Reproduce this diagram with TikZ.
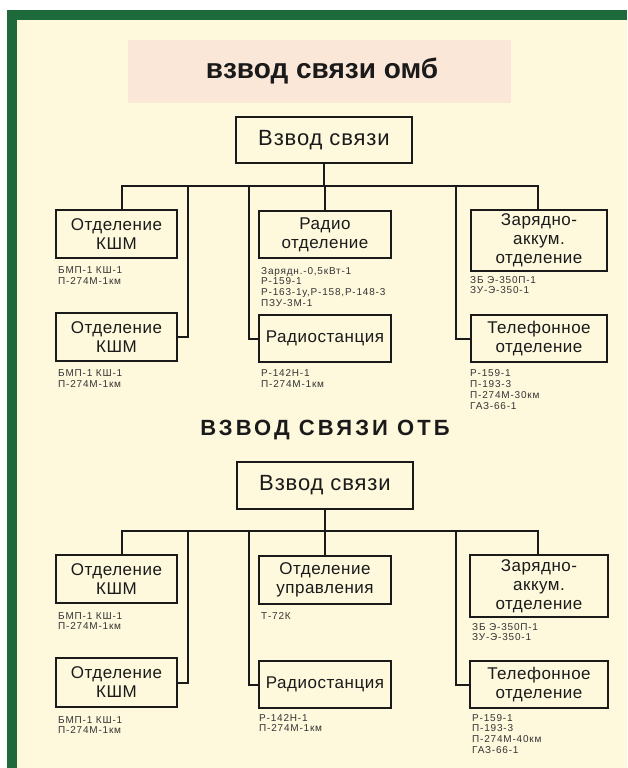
\documentclass[tikz,border=0pt]{standalone}
\usepackage{fontspec}
\setmainfont{Liberation Sans}
\newfontfamily\boxfont[LetterSpace=3]{Liberation Sans}
\newfontfamily\rootfont[LetterSpace=4]{Liberation Sans}
\newfontfamily\notefont[LetterSpace=8]{Liberation Sans}
\newfontfamily\capfont[LetterSpace=14]{Liberation Sans}
\definecolor{frame}{HTML}{1E6A3A}
\definecolor{cream}{HTML}{FEF8DD}
\definecolor{pinkbg}{HTML}{FBE7D8}
\definecolor{ink}{HTML}{1A1A1A}
\definecolor{notegray}{HTML}{333333}
\begin{document}
\begin{tikzpicture}[x=1pt,y=-1pt,
  unit/.style={draw=ink,line width=2pt,fill=cream,inner sep=0pt,align=center,text=ink,
    font=\boxfont\fontsize{17}{19}\selectfont},
  rootbox/.style={unit,minimum width=176pt,minimum height=46pt,font=\rootfont\fontsize{22}{24}\selectfont},
  conn/.style={draw=ink,line width=2pt},
  note/.style={anchor=north west,inner sep=0pt,align=left,text=notegray,
    font=\notefont\fontsize{10}{10.8}\selectfont}]
\useasboundingbox (0,0) rectangle (627,768);
\fill[white] (0,0) rectangle (627,768);
\fill[frame] (7,10) rectangle (627,768);
\fill[cream] (17,20) rectangle (627,768);
% ---------- section 1 ----------
\fill[pinkbg] (128,40) rectangle (511,103);
\node[font=\bfseries\fontsize{28}{30}\selectfont,text=ink] (title1) at (322,71) {взвод связи омб};
\node[rootbox] (root1) at (324,140) {Взвод связи};
\node[unit,minimum width=121pt,minimum height=48pt] (k1) at (116.5,234) {Отделение\\КШМ};
\node[unit,minimum width=121pt,minimum height=48pt] (k2) at (116.5,337) {Отделение\\КШМ};
\node[unit,minimum width=132pt,minimum height=47pt] (radio) at (325,234.5) {Радио\\отделение};
\node[unit,minimum width=132pt,minimum height=47pt] (rst1) at (325,338.5) {Радиостанция};
\node[unit,minimum width=136pt,minimum height=61pt] (zar1) at (539,240.5) {Зарядно-\\аккум.\\отделение};
\node[unit,minimum width=136pt,minimum height=47pt] (tel1) at (539,338.5) {Телефонное\\отделение};
\coordinate (b1L) at (122,186);
\coordinate (b1R) at (538,186);
\coordinate (b1a) at (188,186);
\coordinate (b1b) at (249,186);
\coordinate (b1c) at (456,186);
\draw[conn] (root1.south) -- (root1.south |- b1L);
\draw[conn] (k1.north -| b1L) -- (b1L) -- (b1R) -- (zar1.north -| b1R);
\draw[conn] (radio.north) -- (radio.north |- b1L);
\draw[conn] (k2.east) -| (b1a);
\draw[conn] (rst1.west) -| (b1b);
\draw[conn] (tel1.west) -| (b1c);
\node[note] (n1) at (58,266.5) {БМП-1 КШ-1\\П-274М-1км};
\node[note] (n2) at (58,369.5) {БМП-1 КШ-1\\П-274М-1км};
\node[note] (n3) at (261,267) {Зарядн.-0,5кВт-1\\Р-159-1\\Р-163-1у,Р-158,Р-148-3\\ПЗУ-3М-1};
\node[note] (n4) at (261,369.5) {Р-142Н-1\\П-274М-1км};
\node[note] (n5) at (470,276) {ЗБ Э-350П-1\\ЗУ-Э-350-1};
\node[note] (n6) at (470,369.5) {Р-159-1\\П-193-3\\П-274М-30км\\ГАЗ-66-1};
% ---------- section 2 ----------
\node[font=\capfont\bfseries\fontsize{22}{24}\selectfont,text=ink] (title2) at (325,430) {ВЗВОД СВЯЗИ ОТБ};
\node[rootbox,minimum height=47pt] (root2) at (325,485.5) {Взвод связи};
\node[unit,minimum width=121pt,minimum height=48pt] (k3) at (116.5,579) {Отделение\\КШМ};
\node[unit,minimum width=121pt,minimum height=49pt] (k4) at (116.5,682.5) {Отделение\\КШМ};
\node[unit,minimum width=132pt,minimum height=48pt] (upr) at (325,580) {Отделение\\управления};
\node[unit,minimum width=132pt,minimum height=47pt] (rst2) at (325,684.5) {Радиостанция};
\node[unit,minimum width=138pt,minimum height=62pt] (zar2) at (539,586) {Зарядно-\\аккум.\\отделение};
\node[unit,minimum width=138pt,minimum height=47pt] (tel2) at (539,684.5) {Телефонное\\отделение};
\coordinate (b2L) at (122,531);
\coordinate (b2R) at (538,531);
\coordinate (b2a) at (188,531);
\coordinate (b2b) at (249,531);
\coordinate (b2c) at (456,531);
\draw[conn] (root2.south) -- (root2.south |- b2L);
\draw[conn] (k3.north -| b2L) -- (b2L) -- (b2R) -- (zar2.north -| b2R);
\draw[conn] (upr.north) -- (upr.north |- b2L);
\draw[conn] (k4.east) -| (b2a);
\draw[conn] (rst2.west) -| (b2b);
\draw[conn] (tel2.west) -| (b2c);
\node[note] (m1) at (58,612) {БМП-1 КШ-1\\П-274М-1км};
\node[note] (m2) at (58,716) {БМП-1 КШ-1\\П-274М-1км};
\node[note] (m3) at (261,612) {Т-72К};
\node[note] (m4) at (259,714) {Р-142Н-1\\П-274М-1км};
\node[note] (m5) at (472,623) {ЗБ Э-350П-1\\ЗУ-Э-350-1};
\node[note] (m6) at (472,714) {Р-159-1\\П-193-3\\П-274М-40км\\ГАЗ-66-1};
\end{tikzpicture}
\end{document}
